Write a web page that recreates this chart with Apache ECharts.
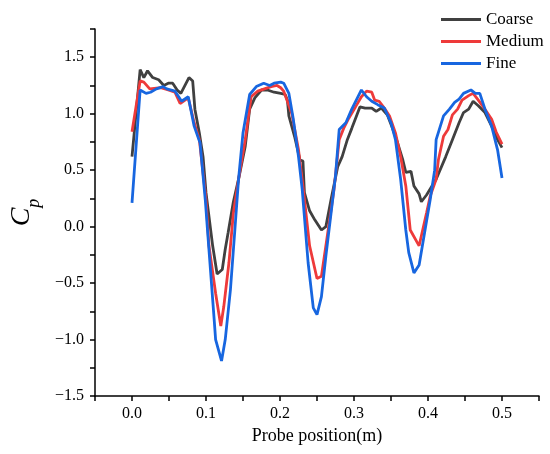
<!DOCTYPE html>
<html>
<head>
<meta charset="utf-8">
<script src="https://cdn.jsdelivr.net/npm/echarts@6/dist/echarts.min.js"></script>
<style>
  html, body { margin: 0; padding: 0; background: #fff; }
  #main { width: 550px; height: 454px; }
</style>
</head>
<body>
<div id="main"></div>
<script>
// probe position (m), Cp
var coarse = [
  [0.000,0.62],[0.011,1.39],[0.016,1.32],[0.021,1.38],[0.028,1.32],[0.036,1.30],[0.043,1.25],
  [0.049,1.27],[0.055,1.27],[0.061,1.21],[0.066,1.18],[0.077,1.32],[0.082,1.29],[0.085,1.04],
  [0.091,0.83],[0.096,0.62],[0.100,0.30],[0.109,-0.17],[0.115,-0.42],[0.122,-0.38],[0.126,-0.20],
  [0.130,-0.05],[0.137,0.22],[0.144,0.42],[0.153,0.71],[0.159,1.04],[0.166,1.14],[0.175,1.21],
  [0.183,1.21],[0.192,1.19],[0.201,1.18],[0.207,1.17],[0.210,1.12],[0.212,0.98],[0.220,0.79],
  [0.227,0.59],[0.231,0.58],[0.233,0.30],[0.240,0.14],[0.247,0.06],[0.256,-0.03],[0.262,0.00],
  [0.269,0.24],[0.278,0.53],[0.284,0.62],[0.291,0.77],[0.297,0.87],[0.304,0.99],[0.308,1.06],
  [0.315,1.05],[0.324,1.05],[0.330,1.02],[0.337,1.05],[0.345,0.99],[0.352,0.87],[0.359,0.74],
  [0.366,0.59],[0.370,0.48],[0.377,0.49],[0.381,0.36],[0.388,0.29],[0.391,0.22],[0.398,0.28],
  [0.411,0.42],[0.424,0.62],[0.433,0.77],[0.442,0.92],[0.448,1.01],[0.455,1.04],[0.461,1.11],
  [0.468,1.07],[0.477,1.01],[0.486,0.89],[0.494,0.77],[0.500,0.70]
];
var medium = [
  [0.000,0.84],[0.011,1.29],[0.016,1.28],[0.024,1.22],[0.039,1.23],[0.049,1.21],[0.058,1.19],
  [0.065,1.09],[0.076,1.14],[0.084,0.92],[0.091,0.77],[0.100,0.24],[0.104,-0.17],[0.113,-0.59],
  [0.120,-0.88],[0.124,-0.71],[0.131,-0.32],[0.137,0.12],[0.144,0.42],[0.153,0.77],[0.161,1.15],
  [0.170,1.20],[0.179,1.22],[0.188,1.24],[0.196,1.25],[0.201,1.23],[0.205,1.20],[0.216,1.00],
  [0.219,0.89],[0.225,0.68],[0.231,0.36],[0.240,-0.17],[0.250,-0.46],[0.256,-0.44],[0.262,-0.17],
  [0.273,0.33],[0.280,0.77],[0.286,0.87],[0.293,0.96],[0.302,1.06],[0.310,1.15],[0.317,1.20],
  [0.324,1.19],[0.328,1.12],[0.334,1.11],[0.341,1.05],[0.348,0.98],[0.356,0.83],[0.363,0.62],
  [0.370,0.36],[0.376,-0.03],[0.388,-0.17],[0.398,0.12],[0.403,0.27],[0.411,0.42],[0.414,0.59],
  [0.421,0.80],[0.427,0.86],[0.433,0.99],[0.440,1.04],[0.446,1.12],[0.455,1.16],[0.461,1.18],
  [0.468,1.12],[0.477,1.04],[0.486,0.95],[0.492,0.84],[0.500,0.73]
];
var fine = [
  [0.000,0.21],[0.011,1.21],[0.019,1.18],[0.025,1.19],[0.033,1.22],[0.042,1.24],[0.047,1.22],
  [0.058,1.20],[0.067,1.11],[0.076,1.15],[0.084,0.89],[0.092,0.74],[0.099,0.24],[0.102,-0.03],
  [0.111,-0.82],[0.113,-1.00],[0.121,-1.19],[0.126,-1.00],[0.133,-0.56],[0.139,-0.03],[0.144,0.42],
  [0.150,0.83],[0.159,1.17],[0.168,1.24],[0.178,1.27],[0.186,1.25],[0.192,1.27],[0.201,1.28],
  [0.205,1.27],[0.212,1.18],[0.218,0.95],[0.225,0.62],[0.230,0.33],[0.238,-0.32],[0.245,-0.72],
  [0.250,-0.78],[0.256,-0.62],[0.262,-0.26],[0.269,0.12],[0.275,0.45],[0.280,0.86],[0.289,0.92],
  [0.297,1.04],[0.310,1.21],[0.317,1.15],[0.324,1.11],[0.332,1.08],[0.341,1.05],[0.350,0.92],
  [0.356,0.77],[0.363,0.42],[0.370,-0.03],[0.374,-0.23],[0.381,-0.41],[0.388,-0.34],[0.396,-0.03],
  [0.403,0.24],[0.409,0.50],[0.411,0.77],[0.421,0.98],[0.429,1.04],[0.436,1.10],[0.442,1.13],
  [0.448,1.18],[0.458,1.21],[0.464,1.18],[0.470,1.18],[0.477,1.04],[0.486,0.89],[0.494,0.68],
  [0.500,0.43]
];
var seriesNames = ['Coarse', 'Medium', 'Fine'];
var seriesColors = ['#404040', '#ee3a3a', '#1766e0'];

var font = 'Liberation Serif';
var myChart = echarts.init(document.getElementById('main'));

var option = {
  backgroundColor: '#fff',
  animation: false,
  grid: { left: 83, right: 11, top: 29, bottom: 58 },
  legend: {
    orient: 'vertical',
    left: 436,
    top: 6,
    icon: 'rect',
    itemWidth: 40,
    itemHeight: 3,
    itemGap: 5,
    textStyle: { fontFamily: font, fontSize: 17, color: '#000', lineHeight: 17 },
    data: seriesNames
  },
  xAxis: {
    type: 'value',
    min: -0.05,
    max: 0.55,
    interval: 0.05,
    name: 'Probe position(m)',
    nameLocation: 'middle',
    nameGap: 31,
    nameTextStyle: { fontFamily: font, fontSize: 18, color: '#000' },
    axisLine: { onZero: false, lineStyle: { color: '#000', width: 1.5 } },
    axisTick: { length: 5, lineStyle: { color: '#000', width: 1.5 } },
    axisLabel: {
      fontFamily: font, fontSize: 16, color: '#000', margin: 10,
      formatter: function (v) {
        return Math.round(v * 20) % 2 === 0 ? v.toFixed(1) : '';
      }
    },
    splitLine: { show: false }
  },
  yAxis: {
    type: 'value',
    min: -1.5,
    max: 1.75,
    interval: 0.25,
    name: '{c|C}{p|p}',
    nameLocation: 'middle',
    nameRotate: 90,
    nameGap: 52,
    nameTextStyle: {
      rich: {
        c: { fontFamily: font, fontStyle: 'italic', fontSize: 28, color: '#000',
             verticalAlign: 'bottom', padding: [0, 0, 7, 0] },
        p: { fontFamily: font, fontStyle: 'italic', fontSize: 18, color: '#000',
             verticalAlign: 'bottom' }
      }
    },
    axisLine: { show: true, onZero: false, lineStyle: { color: '#000', width: 1.5 } },
    axisTick: { show: true, length: 5, lineStyle: { color: '#000', width: 1.5 } },
    axisLabel: {
      fontFamily: font, fontSize: 16, color: '#000', margin: 11,
      formatter: function (v) {
        return Math.round(v * 4) % 2 === 0 ? v.toFixed(1).replace('-', '\u2212') : '';
      }
    },
    splitLine: { show: false }
  },
  series: [coarse, medium, fine].map(function (d, i) {
    return {
      name: seriesNames[i],
      type: 'line',
      data: d,
      symbol: 'none',
      lineStyle: { color: seriesColors[i], width: 2.8 },
      itemStyle: { color: seriesColors[i] }
    };
  })
};
myChart.setOption(option);
</script>
</body>
</html>
